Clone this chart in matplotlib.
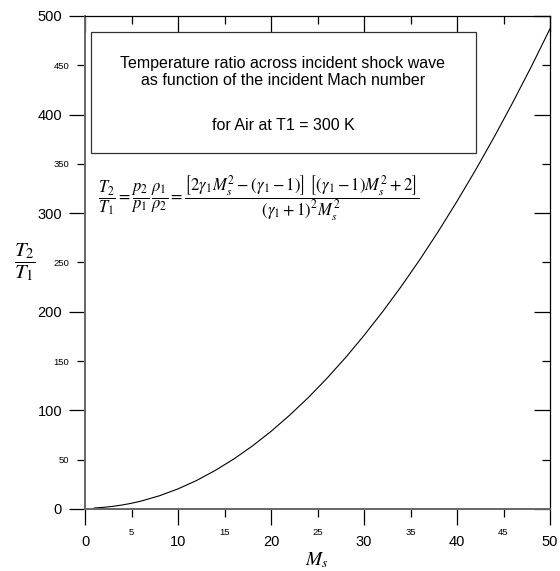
import numpy as np
import matplotlib
matplotlib.use('Agg')
import matplotlib.pyplot as plt
from matplotlib.patches import Rectangle

plt.rcParams['font.family'] = ['Liberation Sans', 'DejaVu Sans']
plt.rcParams['mathtext.fontset'] = 'stix'

# Temperature ratio T2/T1, per incident Mach number
mach = [1, 2, 3, 4, 5, 6, 8, 10, 12, 14, 16, 18, 20, 22, 24, 26, 28, 30,
        32, 34, 36, 38, 40, 42, 44, 46, 48, 50]
temp_ratio = [1.0, 1.69, 2.68, 4.05, 5.8, 7.94, 13.4, 20.4, 28.9, 39.1, 50.7,
              63.9, 78.7, 95.1, 112.9, 132.4, 153.4, 176.0, 200.1, 225.7, 252.9,
              281.7, 312.1, 343.9, 377.4, 412.4, 448.9, 487.1]

x_major = [0, 10, 20, 30, 40, 50]
x_minor = [5, 15, 25, 35, 45]
y_major = [0, 100, 200, 300, 400, 500]
y_minor = [50, 150, 250, 350, 450]

fig = plt.figure(figsize=(5.6, 5.71), dpi=100)
ax = fig.add_axes([0.1518, 0.1086, 0.8304, 0.8634])

ax.plot(mach, temp_ratio, color='black', lw=0.8)
ax.set_xlim(0, 50); ax.set_ylim(0, 500)

ax.set_xticks(x_major); ax.set_xticks(x_minor, minor=True)
ax.set_yticks(y_major); ax.set_yticks(y_minor, minor=True)
ax.set_xticklabels([str(v) for v in x_major])
ax.set_xticklabels([str(v) for v in x_minor], minor=True)
ax.set_yticklabels([str(v) for v in y_major])
ax.set_yticklabels([str(v) for v in y_minor], minor=True)

ax.tick_params(which='major', direction='out', length=11.5, width=0.9,
               labelsize=10.5, color='black')
ax.tick_params(which='minor', direction='out', length=5.8, width=0.9,
               labelsize=6.8, color='black')
ax.tick_params(axis='y', which='major', pad=5)
ax.tick_params(axis='y', which='minor', pad=5.5)
ax.tick_params(axis='x', which='major', pad=7)
ax.tick_params(axis='x', which='minor', pad=8)

for side in ['left', 'bottom']:
    ax.spines[side].set_color('#666666'); ax.spines[side].set_linewidth(1.4)
for side in ['top', 'right']:
    ax.spines[side].set_color('black'); ax.spines[side].set_linewidth(0.9)

# inward ticks on top and right
top = ax.secondary_xaxis('top')
top.set_xticks(x_major); top.set_xticks(x_minor, minor=True)
top.tick_params(which='major', direction='in', length=11.5, width=0.9, labeltop=False)
top.tick_params(which='minor', direction='in', length=5.8, width=0.9, labeltop=False)
top.spines['top'].set_visible(False)
right = ax.secondary_yaxis('right')
right.set_yticks(y_major); right.set_yticks(y_minor, minor=True)
right.tick_params(which='major', direction='in', length=11.5, width=0.9, labelright=False)
right.tick_params(which='minor', direction='in', length=5.8, width=0.9, labelright=False)
right.spines['right'].set_visible(False)

# title box
fig.patches.append(Rectangle((91 / 560, 1 - 153 / 571), (476 - 91) / 560, (153 - 32) / 571,
                             transform=fig.transFigure, fill=False, ec='#333333', lw=0.9))
fig.text(283 / 560, 1 - 72 / 571,
         'Temperature ratio across incident shock wave\nas function of the incident Mach number',
         ha='center', va='center', fontsize=11.5, linespacing=1.15)
fig.text(283 / 560, 1 - 125 / 571, 'for Air at T1 = 300 K',
         ha='center', va='center', fontsize=11.5)

formula = (r'$\dfrac{T_2}{T_1}=\dfrac{p_2}{p_1}\,\dfrac{\rho_1}{\rho_2}='
           r'\dfrac{\left[2\gamma_1 M_s^2-(\gamma_1-1)\right]\ '
           r'\left[(\gamma_1-1) M_s^2+2\right]}{(\gamma_1+1)^2 M_s^2}$')
fig.text(98 / 560, 1 - 198 / 571, formula, ha='left', va='center', fontsize=12)

fig.text(25 / 560, 1 - 262 / 571, r'$\dfrac{T_2}{T_1}$', ha='center', va='center', fontsize=15)
fig.text(317 / 560, 1 - 560 / 571, r'$M_s$', ha='center', va='center', fontsize=14)

fig.savefig('out.png', dpi=100)
